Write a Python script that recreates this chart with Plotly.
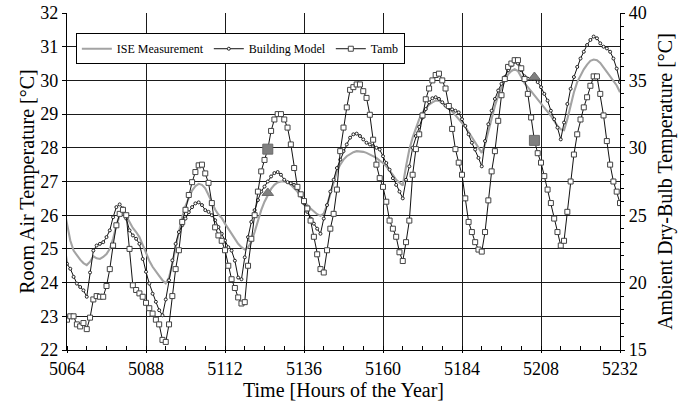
import plotly.graph_objects as go

# Hourly time stamps (hours of the year); the first sample sits just left of the axis start
hours = list(range(5063, 5233))

# Room air temperature measured (ISE), degC, left axis
ise_measurement = [
    26.25, 25.7, 25.25, 24.95, 24.8, 24.68, 24.58, 24.52, 24.62, 24.78, 24.72, 24.7,
    24.76, 24.85, 25.0, 25.3, 25.7, 26.0, 26.07, 25.98, 25.8, 25.62, 25.5, 25.35,
    25.12, 24.88, 24.65, 24.47, 24.32, 24.2, 24.07, 23.98, 24.15, 24.55, 25.05, 25.55,
    25.95, 26.28, 26.53, 26.73, 26.86, 26.93, 26.9, 26.8, 26.6, 26.38, 26.17, 26.02,
    25.92, 25.75, 25.6, 25.45, 25.3, 25.15, 25.05, 24.98, 25.05, 25.2, 25.5, 25.85,
    26.15, 26.4, 26.6, 26.78, 26.9, 26.97, 27.0, 27.0, 26.97, 26.9, 26.8, 26.7,
    26.55, 26.42, 26.3, 26.2, 26.12, 26.03, 25.98, 26.05, 26.3, 26.65, 27.0, 27.3,
    27.5, 27.65, 27.75, 27.82, 27.87, 27.9, 27.9, 27.88, 27.85, 27.8, 27.75, 27.7,
    27.62, 27.55, 27.45, 27.33, 27.2, 27.05, 26.95, 26.88, 27.45, 27.95, 28.3, 28.6,
    28.85, 29.05, 29.18, 29.28, 29.35, 29.4, 29.4, 29.33, 29.25, 29.17, 29.08, 28.97,
    28.86, 28.74, 28.62, 28.47, 28.32, 28.18, 28.02, 27.85, 28.1, 28.5, 28.9, 29.25,
    29.55, 29.8, 30.02, 30.18, 30.28, 30.33, 30.28, 30.1, 29.92, 29.8, 29.68, 29.57,
    29.45, 29.33, 29.2, 29.07, 28.95, 28.8, 28.65, 28.55, 28.52, 28.85, 29.3, 29.65,
    29.95, 30.15, 30.33, 30.47, 30.58, 30.62, 30.6, 30.52, 30.4, 30.25, 30.12, 30.0,
    29.85, 29.65,
]

# Room air temperature simulated by the building model, degC, left axis
building_model = [
    26.2, 24.56, 24.41, 24.17, 23.97, 23.87, 23.77, 23.58, 24.3, 24.95, 25.1, 25.15,
    25.2, 25.35, 25.55, 25.94, 26.24, 26.32, 26.2, 25.9, 25.55, 25.4, 25.3, 25.15,
    24.7, 24.32, 23.97, 23.67, 23.43, 23.18, 23.03, 23.5, 24.07, 24.66, 25.15, 25.5,
    25.7, 25.9, 26.09, 26.24, 26.35, 26.38, 26.3, 26.15, 26.1, 26.0, 25.85, 25.65,
    25.45, 25.25, 25.05, 24.95, 24.65, 24.15, 24.1, 24.75, 25.35, 25.8, 26.15, 26.45,
    26.7, 26.85, 27.0, 27.15, 27.25, 27.28, 27.2, 27.05, 26.98, 26.95, 26.9, 26.8,
    26.6, 26.35, 26.1, 25.9, 25.75, 25.6, 25.45, 25.9, 26.3, 26.7, 27.05, 27.4,
    27.65, 27.9, 28.1, 28.3, 28.4, 28.42, 28.35, 28.25, 28.15, 28.1, 28.05, 28.0,
    27.95, 27.75, 27.55, 27.35, 27.1, 26.9, 26.7, 26.5, 27.05, 27.45, 28.0, 28.35,
    28.62, 28.9, 29.15, 29.35, 29.47, 29.5, 29.45, 29.35, 29.25, 29.18, 29.14, 29.1,
    29.05, 28.85, 28.65, 28.4, 28.15, 27.95, 27.7, 27.45, 28.2, 28.7, 29.1, 29.45,
    29.7, 29.9, 30.1, 30.3, 30.45, 30.55, 30.5, 30.3, 30.12, 30.05, 30.05, 30.05,
    29.95, 29.8, 29.6, 29.4, 29.1, 28.85, 28.6, 28.25, 28.75, 29.3, 29.75, 30.1,
    30.4, 30.65, 30.85, 31.05, 31.2, 31.3, 31.25, 31.1, 31.0, 30.95, 30.85, 30.65,
    30.35, 29.95,
]

# Ambient dry-bulb temperature, degC, right axis
tamb = [
    20.5, 17.25, 17.5, 17.5, 16.9, 16.75, 17.0, 16.55, 17.4, 18.75, 19.0, 18.95,
    18.95, 19.75, 21.0, 22.75, 24.25, 25.1, 25.4, 25.0, 22.5, 19.8, 19.45, 19.2,
    18.95, 18.5, 18.1, 17.7, 17.25, 16.9, 15.75, 15.6, 16.9, 19.0, 21.0, 22.4,
    24.5, 25.4, 26.5, 27.45, 28.2, 28.7, 28.75, 28.1, 27.4, 25.9, 24.1, 23.5,
    23.1, 22.4, 21.25, 20.25, 19.6, 18.9, 18.45, 18.55, 21.25, 23.25, 25.0, 26.75,
    28.25, 29.1, 29.9, 31.25, 32.1, 32.5, 32.5, 32.1, 31.5, 30.25, 28.5, 27.1,
    26.55, 26.05, 25.5, 24.6, 23.4, 22.1, 21.0, 20.75, 22.4, 24.0, 25.1, 26.9,
    29.75, 31.5, 33.0, 34.3, 34.5, 34.7, 34.7, 34.2, 33.7, 32.45, 30.6, 28.75,
    27.75, 27.1, 26.0, 24.6, 24.0, 23.4, 22.25, 21.6, 23.0, 24.6, 28.0, 29.9,
    31.0, 32.4, 33.6, 34.4, 35.0, 35.4, 35.5, 35.0, 34.4, 33.1, 31.4, 29.9,
    28.9, 28.0, 26.25, 24.5, 23.75, 23.0, 22.45, 22.3, 23.75, 26.1, 28.25, 29.75,
    32.0, 33.9, 35.1, 36.0, 36.25, 36.5, 36.5, 35.9, 35.1, 34.0, 32.25, 30.55,
    29.6, 28.9, 27.9, 26.9, 25.9, 24.75, 23.75, 22.75, 23.1, 25.25, 27.5, 29.5,
    31.0, 32.1, 33.0, 33.75, 34.6, 35.3, 35.3, 34.0, 32.4, 30.5, 28.75, 27.5,
    26.75, 25.9,
]

# Highlighted instants: ambient (squares, right axis) and room (triangles, left axis)
marked_hours = [5125, 5206]
marked_tamb = [29.9, 30.55]
marked_room = [26.66, 30.1]

# Axis ticks
x_ticks = [5064, 5088, 5112, 5136, 5160, 5184, 5208, 5232]
left_ticks = list(range(22, 33))
right_ticks = [15, 20, 25, 30, 35, 40]

FONT = "Liberation Serif"

fig = go.Figure()

fig.add_trace(go.Scatter(
    x=hours, y=ise_measurement, name="ISE Measurement", mode="lines",
    line=dict(color="#a3a3a3", width=2.1),
))
fig.add_trace(go.Scatter(
    x=hours, y=building_model, name="Building Model", mode="lines+markers",
    line=dict(color="#111111", width=1),
    marker=dict(symbol="circle", size=3, color="white",
                line=dict(color="#222222", width=1)),
))
fig.add_trace(go.Scatter(
    x=hours, y=tamb, name="Tamb", mode="lines+markers", yaxis="y2",
    line=dict(color="#111111", width=1),
    marker=dict(symbol="square", size=5, color="white",
                line=dict(color="#444444", width=1)),
))
fig.add_trace(go.Scatter(
    x=marked_hours, y=marked_tamb, mode="markers", yaxis="y2", showlegend=False,
    marker=dict(symbol="square", size=10, color="#7f7f7f",
                line=dict(color="#6a6a6a", width=1)),
))
fig.add_trace(go.Scatter(
    x=marked_hours, y=marked_room, mode="markers", showlegend=False,
    marker=dict(symbol="triangle-up", size=10, color="#7f7f7f",
                line=dict(color="#6a6a6a", width=1)),
))

fig.update_layout(
    width=688, height=407,
    margin=dict(l=67, r=68, t=13, b=57, autoexpand=False),
    plot_bgcolor="white", paper_bgcolor="white",
    font=dict(family=FONT, color="black", size=18),
    showlegend=True,
    legend=dict(
        x=0.016, y=0.94, xanchor="left", yanchor="top",
        orientation="h", bgcolor="white", bordercolor="black", borderwidth=1,
        font=dict(family=FONT, size=12, color="black"),
        itemwidth=30, tracegroupgap=0,
    ),
    xaxis=dict(
        range=[5064, 5232], tickmode="array", tickvals=x_ticks,
        showgrid=True, gridcolor="#1a1a1a", gridwidth=1.2,
        showline=True, linecolor="black", linewidth=1.2,
        ticks="outside", ticklen=2, tickcolor="black",
        minor=dict(dtick=6, tick0=5064, ticks="inside", ticklen=4,
                   tickcolor="black", showgrid=False),
        zeroline=False, automargin=False,
        title=dict(text="Time [Hours of the Year]", font=dict(size=20), standoff=0),
        tickfont=dict(size=18),
    ),
    yaxis=dict(
        range=[22, 32], tickmode="array", tickvals=left_ticks,
        showgrid=True, gridcolor="#1a1a1a", gridwidth=1.2,
        showline=True, linecolor="black", linewidth=1.2,
        ticks="outside", ticklen=4, tickcolor="black",
        zeroline=False, automargin=False,
        title=dict(text="Room Air Temperature [°C]", font=dict(size=20), standoff=0),
        tickfont=dict(size=18),
    ),
    yaxis2=dict(
        range=[15, 40], overlaying="y", side="right", anchor="x",
        tickmode="array", tickvals=right_ticks,
        showgrid=False, showline=True, linecolor="black", linewidth=1.2,
        ticks="outside", ticklen=4, tickcolor="black",
        minor=dict(dtick=1, tick0=15, ticks="outside", ticklen=3,
                   tickcolor="black", showgrid=False),
        zeroline=False, automargin=False,
        title=dict(text="Ambient Dry-Bulb Temperature [°C]", font=dict(size=20), standoff=12),
        tickfont=dict(size=18),
    ),
)

fig.write_html("out.html")
